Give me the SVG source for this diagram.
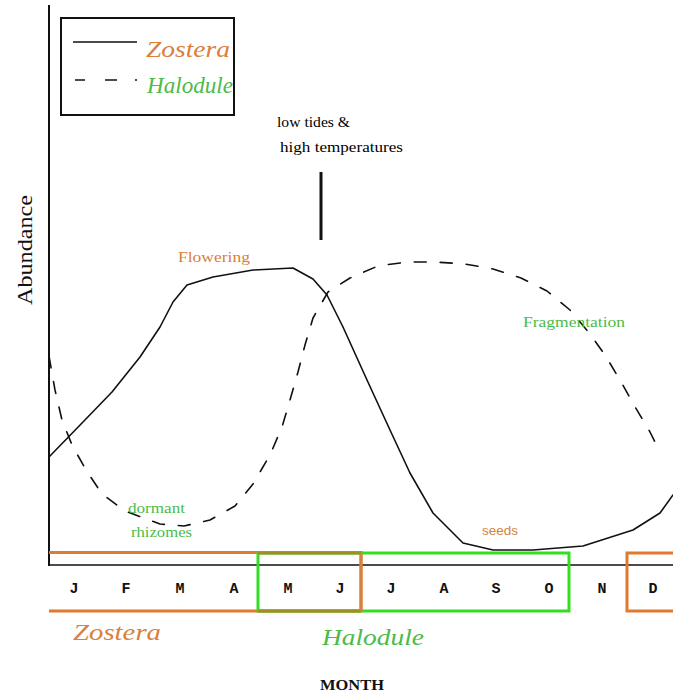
<svg xmlns="http://www.w3.org/2000/svg" width="673" height="696" viewBox="0 0 673 696">
<style>
.ser{font-family:"Liberation Serif","DejaVu Serif",serif}
.ital{font-family:"Liberation Serif","DejaVu Serif",serif;font-style:italic}
.mon{font-family:"Liberation Mono","DejaVu Sans Mono",monospace;font-weight:bold;font-size:15px;text-anchor:middle;fill:#111}
.or{fill:#D9803A}
.gr{fill:#4CBB48}
.curve{fill:none;stroke:#111;stroke-width:1.6;stroke-linejoin:round;stroke-linecap:round}
.dash{stroke-dasharray:12 14}
.ob{fill:none;stroke:#E07A2C;stroke-width:3}
.gb{fill:none;stroke:#33DD22;stroke-width:3}
</style>
<rect width="673" height="696" fill="#fff"/>
<g id="axes">
<line x1="49" y1="5" x2="49" y2="566" stroke="#111" stroke-width="2"/>
<line x1="49" y1="565" x2="673" y2="565" stroke="#111" stroke-width="1.6"/>
</g>
<g id="legend">
<rect x="61" y="18" width="173" height="97" fill="none" stroke="#111" stroke-width="2"/>
<line x1="73" y1="42" x2="137" y2="42" stroke="#111" stroke-width="1.6"/>
<line x1="75" y1="80" x2="137" y2="80" stroke="#111" stroke-width="1.6" stroke-dasharray="10 20 12 18 2 40"/>
<text class="ital or" x="146" y="57" font-size="24" textLength="84" lengthAdjust="spacingAndGlyphs">Zostera</text>
<text class="ital gr" x="147" y="93" font-size="24" textLength="86" lengthAdjust="spacingAndGlyphs">Halodule</text>
</g>
<g id="connectors">
<polyline id="zostera-curve" class="curve" points="49,457 83,422 112,392 140,357 160,327 173,302 187,285 213,277 253,270 293,268 313,279 327,295 343,327 367,380 390,430 410,473 433,513 463,543 493,550 533,550 583,546 633,530 660,513 673,495"/>
<polyline id="halodule-curve" class="curve dash" points="49,356 55,390 62,420 72,445 86,470 102,494 125,511 160,524 184,526 210,520 235,506 253,484 270,455 282,427 290,400 298,372 305,345 313,318 328,292 350,278 378,266 407,262 435,262 465,264 493,269 521,278 547,291 570,310 590,334 605,355 620,380 634,405 650,432 655,442"/>
<line x1="321" y1="172" x2="321" y2="240" stroke="#111" stroke-width="3"/>
</g>
<g id="annotation">
<text class="ser" x="277" y="127" font-size="15" textLength="73" lengthAdjust="spacingAndGlyphs">low tides &amp;</text>
<text class="ser" x="280" y="152" font-size="15" textLength="123" lengthAdjust="spacingAndGlyphs">high temperatures</text>
</g>
<g id="labels">
<text class="ser or" x="178" y="262" font-size="15" textLength="72" lengthAdjust="spacingAndGlyphs">Flowering</text>
<text class="ser gr" x="523" y="327" font-size="15" textLength="102" lengthAdjust="spacingAndGlyphs">Fragmentation</text>
<text class="ser gr" x="128" y="513" font-size="15" textLength="57" lengthAdjust="spacingAndGlyphs">dormant</text>
<text class="ser gr" x="131" y="537" font-size="15" textLength="61" lengthAdjust="spacingAndGlyphs">rhizomes</text>
<text x="482" y="535" font-family="Liberation Sans, sans-serif" font-size="13" fill="#D9803A" textLength="36" lengthAdjust="spacingAndGlyphs">seeds</text>
<text class="ser" x="0" y="0" font-size="20" transform="translate(32,305) rotate(-90)" textLength="110" lengthAdjust="spacingAndGlyphs" fill="#111">Abundance</text>
</g>
<g id="bars">
<path class="ob" d="M49,552.5 H361 V611 H49"/>
<rect class="gb" x="258" y="553" width="311" height="58"/>
<path d="M258,553 H361 M258,611 H361" stroke="#A08E22" stroke-width="3" fill="none"/>
<line x1="361" y1="553" x2="361" y2="611" stroke="#D9803A" stroke-width="3"/>
<rect class="ob" x="627" y="553" width="60" height="58" stroke="#F07020"/>
</g>
<g id="months">
<text class="mon" x="74" y="593">J</text>
<text class="mon" x="126" y="593">F</text>
<text class="mon" x="180" y="593">M</text>
<text class="mon" x="234" y="593">A</text>
<text class="mon" x="288" y="593">M</text>
<text class="mon" x="340" y="593">J</text>
<text class="mon" x="391" y="593">J</text>
<text class="mon" x="444" y="593">A</text>
<text class="mon" x="496" y="593">S</text>
<text class="mon" x="549" y="593">O</text>
<text class="mon" x="602" y="593">N</text>
<text class="mon" x="653" y="593">D</text>
</g>
<g id="bar-labels">
<text class="ital or" x="73" y="640" font-size="24" textLength="88" lengthAdjust="spacingAndGlyphs">Zostera</text>
<text class="ital gr" x="322" y="645" font-size="24" textLength="102" lengthAdjust="spacingAndGlyphs">Halodule</text>
<text x="320" y="690" font-family="Liberation Serif, serif" font-weight="bold" font-size="15" textLength="64" lengthAdjust="spacingAndGlyphs" fill="#111">MONTH</text>
</g>
</svg>
